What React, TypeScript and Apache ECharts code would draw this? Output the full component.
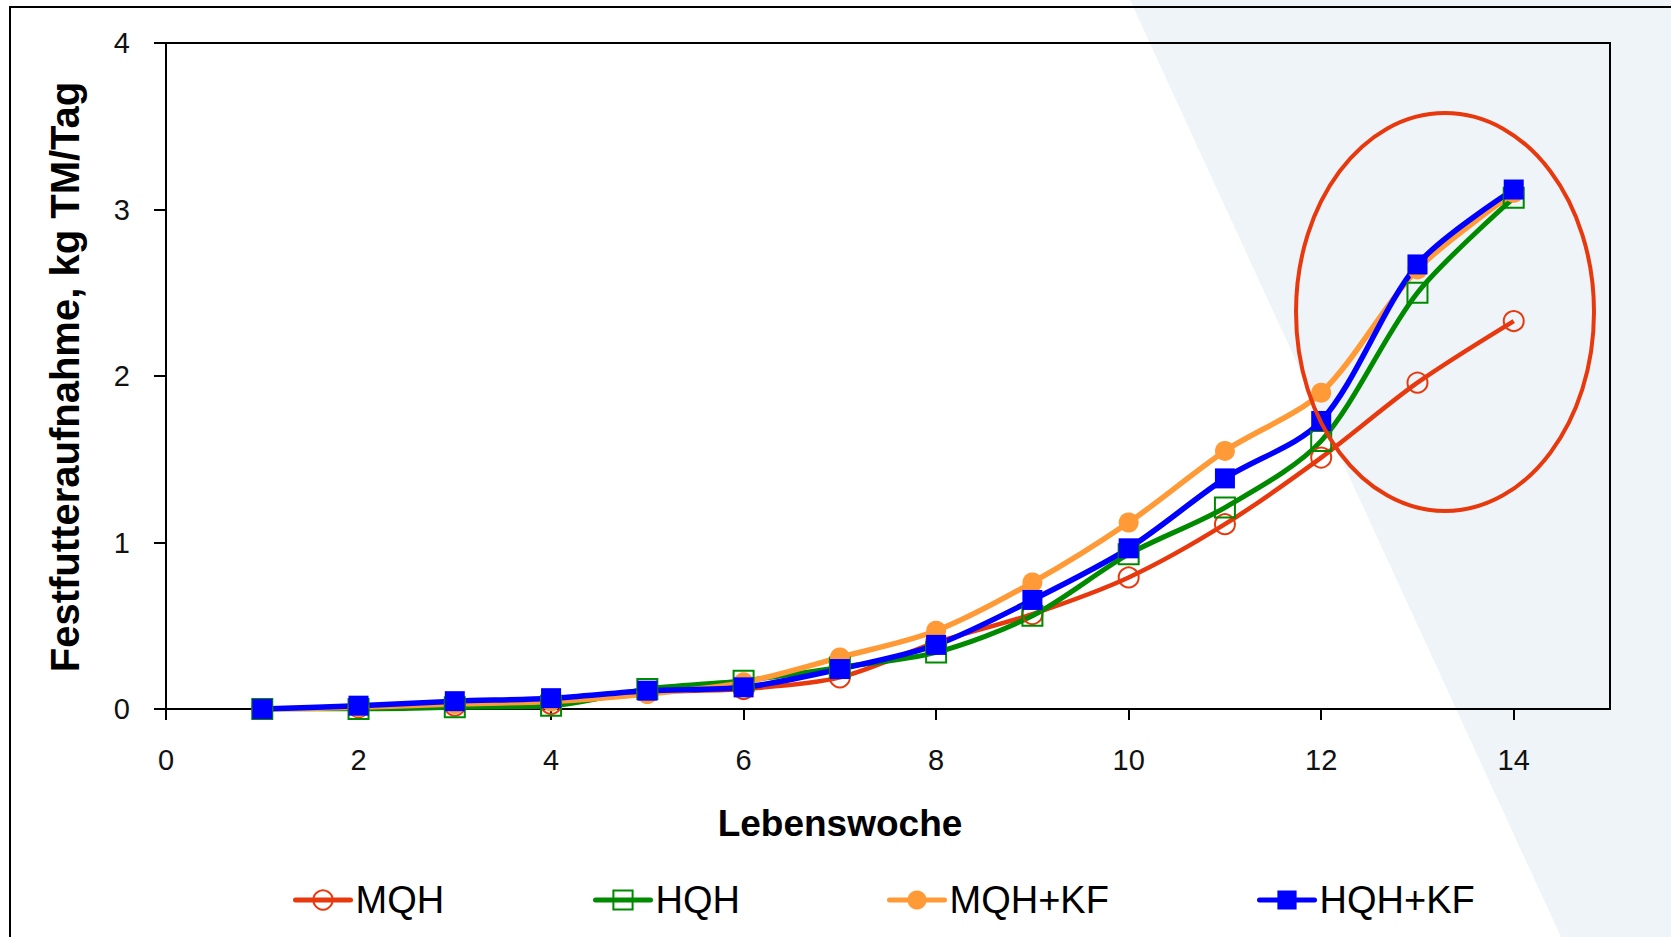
import React, { useEffect, useRef } from "react";
import * as echarts from "echarts";

const weeks = [1, 2, 3, 4, 5, 6, 7, 8, 9, 10, 11, 12, 13, 14];
const xTicks = [0, 2, 4, 6, 8, 10, 12, 14];
const seriesNames = ["MQH", "HQH", "MQH+KF", "HQH+KF"];
const mqh = [0, 0.01, 0.02, 0.03, 0.1, 0.12, 0.19, 0.4, 0.57, 0.79, 1.11, 1.51, 1.96, 2.33];
const hqh = [0, 0, 0.01, 0.02, 0.12, 0.17, 0.25, 0.34, 0.56, 0.93, 1.21, 1.61, 2.5, 3.07];
const mqhKf = [0, 0.01, 0.03, 0.045, 0.09, 0.16, 0.31, 0.47, 0.76, 1.12, 1.55, 1.9, 2.64, 3.1];
const hqhKf = [0, 0.02, 0.047, 0.065, 0.11, 0.13, 0.24, 0.385, 0.655, 0.965, 1.385, 1.73, 2.67, 3.12];

const FONT = "Liberation Sans";
const RED = "#e8390e";
const GREEN = "#008a00";
const ORANGE = "#ff9a36";
const BLUE = "#0000ff";

export default function App() {
  const ref = useRef<HTMLDivElement>(null);
  useEffect(() => {
    document.body.style.margin = "0";
    const chart = echarts.init(ref.current!, null, { renderer: "svg" });
    const mk = (name: string, vals: number[], color: string, symbol: string, filled: boolean, lw: number) => ({
      name,
      type: "line",
      data: weeks.map((w, i) => [w, vals[i]]),
      smooth: 0.3,
      symbol,
      symbolSize: 20,
      showSymbol: true,
      lineStyle: { color, width: lw },
      itemStyle: filled
        ? { color }
        : { color: "rgba(255,255,255,0)", borderColor: color, borderWidth: 2 },
      emphasis: { disabled: true },
      z: 3,
    });
    const legendLefts = [293, 593, 887, 1257];
    const legendOpen = [true, true, false, false];
    chart.setOption({
      animation: false,
      textStyle: { fontFamily: FONT },
      grid: {
        left: 166,
        top: 43,
        right: 61,
        bottom: 228,
        show: true,
        borderColor: "#000",
        borderWidth: 2,
        backgroundColor: "transparent",
      },
      xAxis: {
        type: "value",
        min: 0,
        max: 15,
        interval: 2,
        axisLine: { show: true, onZero: false, lineStyle: { color: "#000", width: 2 } },
        axisTick: { show: true, length: 11, customValues: xTicks, lineStyle: { color: "#000", width: 2 } },
        axisLabel: {
          customValues: xTicks,
          margin: 36,
          fontSize: 29,
          color: "#111",
          fontFamily: FONT,
        },
        splitLine: { show: false },
      },
      yAxis: {
        type: "value",
        min: 0,
        max: 4,
        interval: 1,
        axisLine: { show: true, lineStyle: { color: "#000", width: 2 } },
        axisTick: { show: true, length: 12, lineStyle: { color: "#000", width: 2 } },
        axisLabel: { margin: 36, fontSize: 29, color: "#111", fontFamily: FONT },
        splitLine: { show: false },
      },
      legend: seriesNames.map((n, i) => ({
        data: [n],
        left: legendLefts[i],
        top: 881,
        padding: 0,
        itemWidth: 55,
        itemHeight: 24,
        selectedMode: false,
        lineStyle: { width: 5, cap: "round" },
        itemStyle: legendOpen[i] ? { borderWidth: 2 } : {},
        textStyle: { fontSize: 38, color: "#000", fontFamily: FONT },
      })),
      graphic: [
        {
          type: "polygon",
          z: -10,
          silent: true,
          shape: { points: [[1130, 0], [1671, 0], [1671, 937], [1561, 937]] },
          style: { fill: "#eef4f7" },
        },
        {
          type: "rect",
          z: 1,
          silent: true,
          shape: { x: 10, y: 7, width: 1720, height: 1000 },
          style: { fill: "none", stroke: "#000", lineWidth: 2 },
        },
        {
          type: "text",
          x: 840,
          y: 823,
          silent: true,
          style: {
            text: "Lebenswoche",
            fontSize: 37,
            fontWeight: "bold",
            fontFamily: FONT,
            fill: "#000",
            textAlign: "center",
            textVerticalAlign: "middle",
          },
        },
        {
          type: "text",
          x: 65,
          y: 377,
          rotation: Math.PI / 2,
          silent: true,
          style: {
            text: "Festfutteraufnahme, kg TM/Tag",
            fontSize: 40,
            fontWeight: "bold",
            fontFamily: FONT,
            fill: "#000",
            textAlign: "center",
            textVerticalAlign: "middle",
          },
        },
        {
          type: "ellipse",
          z: 100,
          silent: true,
          shape: { cx: 1445, cy: 312, rx: 149, ry: 199 },
          style: { fill: "none", stroke: RED, lineWidth: 4 },
        },
      ],
      series: [
        mk(seriesNames[0], mqh, RED, "circle", false, 4.5),
        mk(seriesNames[1], hqh, GREEN, "rect", false, 5),
        mk(seriesNames[2], mqhKf, ORANGE, "circle", true, 5.5),
        mk(seriesNames[3], hqhKf, BLUE, "rect", true, 5.5),
      ],
    });
    return () => chart.dispose();
  }, []);
  return <div ref={ref} style={{ width: 1671, height: 937 }} />;
}
